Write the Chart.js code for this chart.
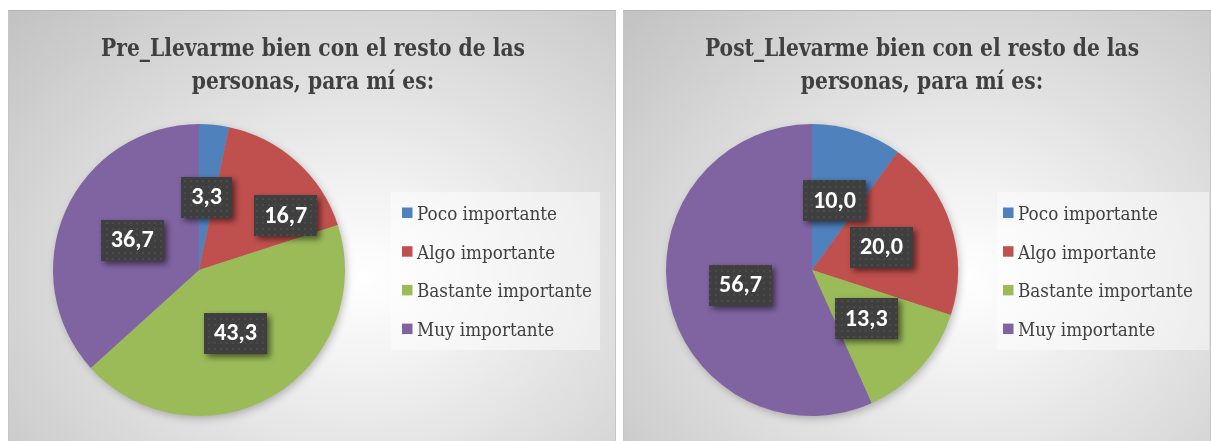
<!DOCTYPE html>
<html><head><meta charset="utf-8">
<script src="https://cdn.jsdelivr.net/npm/chart.js@4.4.1/dist/chart.umd.min.js"></script>
<style>
html,body{margin:0;padding:0;background:#ffffff;width:1211px;height:441px;overflow:hidden}
.panel{position:absolute;top:10px;height:431px;
  background: radial-gradient(ellipse 78% 88% at 58% 62%, #ffffff 0%, #f3f3f3 22%, #c3c3c3 100%);
  box-shadow: inset 0 1px 0 #b4b4b4, inset 1px 0 0 #c6c6c6, inset -1px 0 0 #c6c6c6;}
#p1{left:8px;width:608px}
#p2{left:623px;width:588px}
canvas{position:absolute;left:0;top:0;display:block}
</style></head><body>
<div class="panel" id="p1"><canvas id="c1" width="608" height="431"></canvas></div>
<div class="panel" id="p2"><canvas id="c2" width="588" height="431"></canvas></div>
<script>
// ---- data ----
const categories = ['Poco importante', 'Algo importante', 'Bastante importante', 'Muy importante'];
const preValues = [3.3, 16.7, 43.3, 36.7];
const postValues = [10.0, 20.0, 13.3, 56.7];
const preTitle = ['Pre_Llevarme bien con el resto de las', 'personas, para mí es:'];
const postTitle = ['Post_Llevarme bien con el resto de las', 'personas, para mí es:'];
const sliceColors = ['#4F81BD', '#C0504D', '#9BBB59', '#8064A2'];

function fmt(v) { return v.toFixed(1).replace('.', ','); }

function pickFont(cands, fallback, weight) {
  const c = document.createElement('canvas').getContext('2d');
  const s = 'Llevarme bien importante 0123456789';
  for (const f of cands) {
    let differs = false;
    for (const base of ['monospace', 'sans-serif', 'serif']) {
      c.font = weight + ' 40px ' + base;
      const w0 = c.measureText(s).width;
      c.font = weight + ' 40px "' + f + '", ' + base;
      const w1 = c.measureText(s).width;
      if (Math.abs(w0 - w1) > 0.5) { differs = true; } else { differs = false; break; }
    }
    if (differs) return '"' + f + '"';
  }
  return fallback;
}

let SERIF = 'serif', LABEL = 'sans-serif';
let TITLE_FONT = 'bold 24px serif', TITLE_SX = 1;
let LEG_FONT = '19px serif', LEG_SX = 1;
let LAB_FONT = 'bold 23px sans-serif';

function calibrate() {
  SERIF = pickFont(['Liberation Serif', 'Times New Roman', 'Tinos', 'DejaVu Serif', 'Noto Serif'], 'serif', 'bold') + ', serif';
  LABEL = pickFont(['Carlito', 'Calibri', 'Lato', 'Open Sans', 'Noto Sans'], 'sans-serif', 'bold') + ', sans-serif';
  const c = document.createElement('canvas').getContext('2d');
  // title: target width of first line ~424px, cap height ~17.5px
  TITLE_FONT = 'bold 24px ' + SERIF;
  c.font = TITLE_FONT;
  TITLE_SX = Math.min(1, 424 / c.measureText(preTitle[0]).width);
  // legend: "Poco importante" ~140px wide, cap height ~14px
  LEG_FONT = '19px ' + SERIF;
  c.font = LEG_FONT;
  LEG_SX = Math.min(1, 140 / c.measureText(categories[0]).width);
  // value labels: "16,7" ~43px wide
  c.font = 'bold 23px ' + LABEL;
  const sz = Math.max(20, Math.min(26, 23 * 43 / c.measureText('16,7').width));
  LAB_FONT = 'bold ' + sz.toFixed(1) + 'px ' + LABEL;
}

function makePattern(ctx) {
  const c = document.createElement('canvas');
  c.width = 6; c.height = 6;
  const g = c.getContext('2d');
  g.fillStyle = '#3f3f3f'; g.fillRect(0, 0, 6, 6);
  g.fillStyle = '#4b4b4b'; g.fillRect(2, 2, 2, 2);
  return ctx.createPattern(c, 'repeat');
}

function scaledText(ctx, txt, x, y, sx, align) {
  ctx.save();
  ctx.translate(x, y);
  ctx.scale(sx, 1);
  ctx.textAlign = align;
  ctx.fillText(txt, 0, 0);
  ctx.restore();
}

const excelDecor = {
  id: 'excelDecor',
  beforeDatasetsDraw(chart) {
    const arc = chart.getDatasetMeta(0).data[0];
    if (!arc) return;
    const ctx = chart.ctx;
    ctx.save();
    ctx.shadowColor = 'rgba(0,0,0,0.28)';
    ctx.shadowBlur = 9;
    ctx.shadowOffsetX = 2;
    ctx.shadowOffsetY = 3;
    ctx.fillStyle = '#9a9a9a';
    ctx.beginPath();
    ctx.arc(arc.x, arc.y, arc.outerRadius - 1, 0, Math.PI * 2);
    ctx.fill();
    ctx.restore();
  },
  afterDraw(chart, args, opts) {
    const ctx = chart.ctx;
    ctx.save();
    ctx.fillStyle = '#404040';
    ctx.font = TITLE_FONT;
    ctx.textBaseline = 'alphabetic';
    opts.title.forEach((line, i) => scaledText(ctx, line, opts.titleX, opts.titleY + i * opts.titleStep, TITLE_SX, 'center'));
    ctx.restore();

    const lb = opts.legendBox;
    ctx.save();
    ctx.fillStyle = 'rgba(255,255,255,0.45)';
    ctx.fillRect(lb[0], lb[1], lb[2] - lb[0], lb[3] - lb[1]);
    ctx.font = LEG_FONT;
    ctx.textBaseline = 'alphabetic';
    chart.data.labels.forEach((lab, i) => {
      const cy = opts.legendY + i * opts.legendStep;
      ctx.fillStyle = chart.data.datasets[0].backgroundColor[i];
      ctx.fillRect(opts.legendX, cy - 5, 10.5, 10.5);
      ctx.fillStyle = '#404040';
      scaledText(ctx, lab, opts.legendX + 15, cy + 7.5, LEG_SX, 'left');
    });
    ctx.restore();

    const meta = chart.getDatasetMeta(0);
    const values = chart.data.datasets[0].data;
    const pat = makePattern(ctx);
    ctx.save();
    ctx.font = LAB_FONT;
    meta.data.forEach((arc, i) => {
      const mid = (arc.startAngle + arc.endAngle) / 2;
      const nudge = (opts.nudge && opts.nudge[i]) || [0, 0];
      const px = arc.x + Math.cos(mid) * arc.outerRadius * 0.5 + nudge[0];
      const py = arc.y + Math.sin(mid) * arc.outerRadius * 0.5 + nudge[1];
      const txt = fmt(values[i]);
      const w = ctx.measureText(txt).width + 20;
      const h = 41;
      ctx.save();
      ctx.shadowColor = 'rgba(0,0,0,0.55)';
      ctx.shadowBlur = 6;
      ctx.shadowOffsetX = 3;
      ctx.shadowOffsetY = 3;
      ctx.fillStyle = pat;
      ctx.fillRect(Math.round(px - w / 2), Math.round(py - h / 2), Math.round(w), h);
      ctx.restore();
      ctx.fillStyle = '#ffffff';
      ctx.textAlign = 'center';
      ctx.textBaseline = 'middle';
      ctx.fillText(txt, px, py + 1);
    });
    ctx.restore();
  }
};

function makeChart(id, values, title, pad, decor) {
  return new Chart(document.getElementById(id), {
    type: 'pie',
    data: {
      labels: categories,
      datasets: [{ data: values, backgroundColor: sliceColors, borderWidth: 0 }]
    },
    options: {
      responsive: false,
      animation: false,
      devicePixelRatio: 1,
      layout: { padding: pad },
      plugins: {
        legend: { display: false },
        title: { display: false },
        tooltip: { enabled: false },
        excelDecor: Object.assign({ title: title }, decor)
      }
    },
    plugins: [excelDecor]
  });
}

function build() {
  calibrate();
  makeChart('c1', preValues, preTitle,
    { left: 0, right: 226, top: 114, bottom: 25 },
    { titleX: 305, titleY: 46, titleStep: 33,
      legendBox: [383, 182, 592, 340], legendX: 394, legendY: 202.5, legendStep: 38.7,
      nudge: [[0, 0], [38, 0], [0, 0], [0, 0]] });

  makeChart('c2', postValues, postTitle,
    { left: 0, right: 210, top: 114, bottom: 25 },
    { titleX: 299, titleY: 46, titleStep: 33,
      legendBox: [374, 182, 586, 340], legendX: 380, legendY: 202.5, legendStep: 38.7 });
}

const loads = [
  'bold 24px "DejaVu Serif"', '19px "DejaVu Serif"', 'bold 23px Lato', 'bold 23px Carlito'
].map(f => document.fonts.load(f).catch(() => null));
Promise.all(loads).then(() => document.fonts.ready).then(build, build);
</script>
</body></html>
